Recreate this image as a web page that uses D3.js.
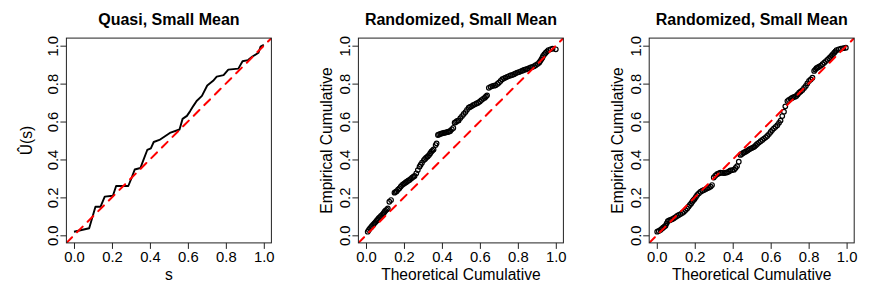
<!DOCTYPE html>
<html><head><meta charset="utf-8">
<script src="https://cdn.jsdelivr.net/npm/d3@7"></script>
<style>
body{margin:0;background:#fff}
svg{display:block}
text{font-family:"Liberation Sans",Arial,Helvetica,sans-serif;fill:#000}
</style></head><body>
<svg id="c" width="872" height="291"></svg>
<script>
const titles = ["Quasi, Small Mean", "Randomized, Small Mean", "Randomized, Small Mean"];
const xLabels = ["s", "Theoretical Cumulative", "Theoretical Cumulative"];
const yLabels = ["Û(s)", "Empirical Cumulative", "Empirical Cumulative"];
const tickValues = [0, 0.2, 0.4, 0.6, 0.8, 1.0];

// Panel 1: quasi residual curve
const quasiS = [0, 0.08, 0.113, 0.14, 0.162, 0.205, 0.222, 0.286, 0.303, 0.32, 0.35, 0.366, 0.386, 0.405, 0.42, 0.45, 0.505, 0.556, 0.572, 0.595, 0.612, 0.63, 0.646, 0.674, 0.702, 0.733, 0.752, 0.788, 0.813, 0.866, 0.888, 0.917, 0.94, 0.972, 0.983, 1.0];
const quasiU = [0.019, 0.037, 0.151, 0.151, 0.204, 0.209, 0.26, 0.26, 0.302, 0.347, 0.355, 0.398, 0.45, 0.459, 0.492, 0.503, 0.54, 0.558, 0.614, 0.63, 0.655, 0.684, 0.708, 0.735, 0.79, 0.815, 0.837, 0.845, 0.874, 0.879, 0.918, 0.924, 0.943, 0.963, 0.995, 1.005];

// Panel 2: randomized residuals (first)
const rand1X = [0.009, 0.015, 0.021, 0.027, 0.032, 0.038, 0.044, 0.05, 0.056, 0.062, 0.067, 0.073, 0.079, 0.086, 0.092, 0.097, 0.102, 0.109, 0.115, 0.123, 0.132, 0.15, 0.156, 0.162, 0.169, 0.176, 0.183, 0.19, 0.197, 0.203, 0.209, 0.215, 0.222, 0.229, 0.236, 0.243, 0.25, 0.256, 0.265, 0.273, 0.282, 0.288, 0.295, 0.305, 0.311, 0.317, 0.325, 0.332, 0.338, 0.344, 0.35, 0.356, 0.367, 0.372, 0.379, 0.385, 0.392, 0.399, 0.406, 0.413, 0.42, 0.426, 0.432, 0.438, 0.444, 0.452, 0.46, 0.467, 0.474, 0.48, 0.488, 0.497, 0.506, 0.515, 0.524, 0.532, 0.541, 0.548, 0.555, 0.564, 0.573, 0.582, 0.591, 0.6, 0.608, 0.617, 0.626, 0.632, 0.638, 0.647, 0.656, 0.665, 0.674, 0.683, 0.692, 0.7, 0.709, 0.718, 0.727, 0.735, 0.744, 0.753, 0.762, 0.771, 0.78, 0.788, 0.797, 0.806, 0.815, 0.824, 0.832, 0.841, 0.85, 0.859, 0.868, 0.877, 0.886, 0.894, 0.903, 0.912, 0.918, 0.924, 0.929, 0.933, 0.94, 0.947, 0.954, 0.961, 0.972, 0.983, 1.0];
const rand1Y = [0.019, 0.028, 0.037, 0.043, 0.049, 0.056, 0.063, 0.07, 0.077, 0.084, 0.09, 0.096, 0.102, 0.109, 0.116, 0.123, 0.13, 0.136, 0.142, 0.177, 0.186, 0.225, 0.229, 0.233, 0.241, 0.248, 0.257, 0.265, 0.27, 0.274, 0.279, 0.283, 0.288, 0.292, 0.298, 0.304, 0.309, 0.313, 0.327, 0.344, 0.362, 0.372, 0.383, 0.397, 0.403, 0.409, 0.416, 0.423, 0.432, 0.441, 0.447, 0.453, 0.476, 0.485, 0.529, 0.532, 0.535, 0.537, 0.539, 0.541, 0.542, 0.544, 0.545, 0.548, 0.55, 0.559, 0.566, 0.594, 0.598, 0.603, 0.606, 0.618, 0.629, 0.64, 0.65, 0.662, 0.673, 0.677, 0.68, 0.686, 0.691, 0.695, 0.699, 0.706, 0.713, 0.72, 0.726, 0.732, 0.738, 0.778, 0.783, 0.787, 0.789, 0.791, 0.798, 0.805, 0.814, 0.823, 0.828, 0.832, 0.836, 0.84, 0.843, 0.846, 0.85, 0.854, 0.858, 0.861, 0.865, 0.868, 0.872, 0.875, 0.878, 0.881, 0.885, 0.888, 0.892, 0.897, 0.903, 0.91, 0.919, 0.928, 0.937, 0.946, 0.955, 0.963, 0.97, 0.977, 0.981, 0.984, 0.981];

// Panel 3: randomized residuals (second)
const rand2X = [0.002, 0.01, 0.019, 0.026, 0.033, 0.04, 0.046, 0.052, 0.058, 0.065, 0.072, 0.081, 0.09, 0.099, 0.107, 0.116, 0.125, 0.134, 0.143, 0.152, 0.16, 0.167, 0.174, 0.181, 0.187, 0.193, 0.199, 0.206, 0.213, 0.222, 0.231, 0.24, 0.249, 0.258, 0.266, 0.275, 0.284, 0.291, 0.3, 0.308, 0.317, 0.326, 0.335, 0.345, 0.354, 0.363, 0.372, 0.38, 0.388, 0.398, 0.407, 0.415, 0.423, 0.432, 0.441, 0.448, 0.455, 0.462, 0.47, 0.478, 0.485, 0.492, 0.5, 0.508, 0.515, 0.522, 0.529, 0.538, 0.547, 0.556, 0.565, 0.574, 0.582, 0.591, 0.6, 0.608, 0.617, 0.626, 0.635, 0.644, 0.652, 0.661, 0.67, 0.677, 0.688, 0.696, 0.705, 0.712, 0.72, 0.728, 0.735, 0.742, 0.75, 0.758, 0.767, 0.776, 0.785, 0.793, 0.802, 0.811, 0.82, 0.829, 0.835, 0.841, 0.848, 0.855, 0.864, 0.873, 0.882, 0.891, 0.9, 0.908, 0.915, 0.922, 0.928, 0.935, 0.941, 0.947, 0.958, 0.97, 0.983, 0.996];
const rand2Y = [0.019, 0.023, 0.028, 0.034, 0.04, 0.046, 0.051, 0.063, 0.075, 0.078, 0.081, 0.085, 0.09, 0.096, 0.102, 0.107, 0.112, 0.118, 0.124, 0.133, 0.142, 0.151, 0.16, 0.168, 0.177, 0.185, 0.192, 0.202, 0.213, 0.222, 0.23, 0.235, 0.239, 0.244, 0.248, 0.252, 0.257, 0.265, 0.305, 0.314, 0.322, 0.326, 0.33, 0.329, 0.328, 0.33, 0.332, 0.337, 0.342, 0.344, 0.346, 0.355, 0.365, 0.388, 0.424, 0.429, 0.434, 0.438, 0.442, 0.447, 0.452, 0.456, 0.46, 0.464, 0.468, 0.475, 0.482, 0.489, 0.496, 0.503, 0.51, 0.517, 0.524, 0.534, 0.545, 0.555, 0.564, 0.572, 0.581, 0.593, 0.605, 0.629, 0.652, 0.68, 0.708, 0.714, 0.72, 0.724, 0.728, 0.731, 0.735, 0.743, 0.752, 0.759, 0.766, 0.777, 0.788, 0.801, 0.814, 0.822, 0.831, 0.867, 0.874, 0.881, 0.885, 0.889, 0.895, 0.902, 0.91, 0.919, 0.926, 0.934, 0.941, 0.949, 0.956, 0.963, 0.97, 0.977, 0.98, 0.984, 0.987, 0.989];

const panelLefts = [66.4, 358.4, 649.2];
const boxW = 205, boxTop = 38.1, boxBottom = 242.9;
const svg = d3.select("#c");
const fmt = d3.format(".1f");

panelLefts.forEach((left, i) => {
  const x = d3.scaleLinear().domain([-0.04, 1.04]).range([left, left + boxW]);
  const y = d3.scaleLinear().domain([-0.04, 1.04]).range([boxBottom, boxTop]);
  const g = svg.append("g");
  const clipId = "clip" + i;
  g.append("clipPath").attr("id", clipId).append("rect")
    .attr("x", left).attr("y", boxTop).attr("width", boxW).attr("height", boxBottom - boxTop);

  const plot = g.append("g").attr("clip-path", `url(#${clipId})`);
  if (i === 0) {
    const line = d3.line().x(d => x(d[0])).y(d => y(d[1]));
    plot.append("path").datum(d3.zip(quasiS, quasiU)).attr("d", line)
      .attr("fill", "none").attr("stroke", "#000").attr("stroke-width", 1.9)
      .attr("stroke-linejoin", "round");
  } else {
    const xs = i === 1 ? rand1X : rand2X, ys = i === 1 ? rand1Y : rand2Y;
    plot.selectAll("circle").data(d3.zip(xs, ys)).join("circle")
      .attr("cx", d => x(d[0])).attr("cy", d => y(d[1])).attr("r", 2.3)
      .attr("fill", "none").attr("stroke", "#000").attr("stroke-width", 1.2);
  }
  // reference line y = x
  plot.append("line").attr("x1", x(-0.04)).attr("y1", y(-0.04)).attr("x2", x(1.04)).attr("y2", y(1.04))
    .attr("stroke", "#ff0000").attr("stroke-width", 2).attr("stroke-dasharray", "8,7").attr("stroke-linecap", "round");

  // box
  g.append("rect").attr("x", left).attr("y", boxTop).attr("width", boxW).attr("height", boxBottom - boxTop)
    .attr("fill", "none").attr("stroke", "#222").attr("stroke-width", 1);

  // x axis
  const xa = g.append("g").attr("transform", `translate(0,${boxBottom})`)
    .call(d3.axisBottom(x).tickValues(tickValues).tickFormat(fmt).tickSize(6).tickSizeOuter(0));
  xa.select(".domain").remove();
  xa.selectAll("line").attr("stroke", "#222");
  xa.selectAll("text").attr("font-size", "14.8px").attr("y", 19.5).attr("dy", 0)
    .style("font-family", '"Liberation Sans",Arial,sans-serif');

  // y axis
  const ya = g.append("g").attr("transform", `translate(${left},0)`)
    .call(d3.axisLeft(y).tickValues(tickValues).tickFormat(fmt).tickSize(6).tickSizeOuter(0));
  ya.select(".domain").remove();
  ya.selectAll("line").attr("stroke", "#222");
  ya.selectAll("text").attr("font-size", "14.8px").attr("transform", "rotate(-90)")
    .attr("x", 0).attr("y", -8.4).attr("dy", 0).attr("text-anchor", "middle")
    .style("font-family", '"Liberation Sans",Arial,sans-serif');

  const cx = left + boxW / 2, cy = (boxTop + boxBottom) / 2;
  g.append("text").attr("x", cx).attr("y", 24.5).attr("text-anchor", "middle")
    .attr("font-size", "16px").attr("font-weight", "bold").text(titles[i]);
  g.append("text").attr("x", cx).attr("y", 279.5).attr("text-anchor", "middle")
    .attr("font-size", "15.6px").text(xLabels[i]);
  const yOff = i === 0 ? 34 : 26;
  g.append("text").attr("transform", `translate(${left - yOff},${cy}) rotate(-90)`)
    .attr("text-anchor", "middle").attr("font-size", "15.6px").text(yLabels[i]);
});
</script></body></html>
